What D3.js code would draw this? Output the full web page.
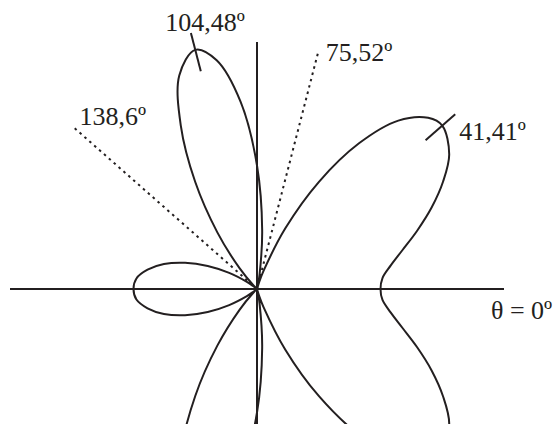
<!DOCTYPE html>
<html>
<head>
<meta charset="utf-8">
<script src="https://cdnjs.cloudflare.com/ajax/libs/d3/7.8.5/d3.min.js"></script>
<style>
	html, body { margin: 0; padding: 0; background: #fff; }
	svg { display: block; }
	text { font-family: 'Liberation Serif', 'Times New Roman', serif; font-size: 26px; fill: #231f20; }
</style>
</head>
<body>
<script>
(function(document, window){
'use strict';

// pattern readings, upper half (theta in degrees, relative radius)
var angles = [0, 5, 10, 15, 20, 25, 30, 35, 41.41, 45, 50, 55, 60, 65, 70, 72.5, 75.52, 78, 80, 85,
				90, 95, 100, 104.48, 110, 115, 120, 125, 130, 135, 138.6, 142.5, 145, 150, 155, 160, 165, 170, 175, 180];
var gains = [0.50, 0.51, 0.55, 0.61, 0.69, 0.78, 0.87, 0.95, 1.00, 0.98, 0.89, 0.72, 0.50, 0.27, 0.08, 0.03, 0, 0.02, 0.06, 0.24,
				0.50, 0.76, 0.94, 1.00, 0.92, 0.73, 0.50, 0.28, 0.11, 0.02, 0, 0.02, 0.05, 0.13, 0.22, 0.31, 0.39, 0.45, 0.49, 0.50];

var nullAngles = [75.52, 138.6];
var nullLabels = ['75,52º', '138,6º'];
var peakAngles = [41.41, 104.48];
var peakLabels = ['41,41º', '104,48º'];
var axisAngles = [0, 90, 180, 270];
var axisLabel = 'θ = 0º';

var width = 553;
var height = 424;
var cx = 257;
var cy = 289;
var ink = '#231f20';

var svg = d3.select('body').append('svg')
			.attr('width', width)
			.attr('height', height);

var rScale = d3.scaleLinear().domain([0, 1]).range([0, 247]);

function rad(deg){
	return deg * Math.PI / 180;
};

function px(deg, g){
	return cx + rScale(g) * Math.cos(rad(deg));
};

function py(deg, g){
	return cy - rScale(g) * Math.sin(rad(deg));
};

var g = svg.append('g').attr('transform', 'translate(' + cx + ',' + cy + ')');

// axes
g.selectAll('line.axis')
	.data(axisAngles)
	.enter()
	.append('line')
	.attr('class', 'axis')
	.attr('x1', 0).attr('y1', 0)
	.attr('x2', function(d){ return rScale(1) * Math.cos(rad(d)); })
	.attr('y2', function(d){ return -rScale(1) * Math.sin(rad(d)); })
	.attr('stroke', ink)
	.attr('stroke-width', 2);

// null directions
g.selectAll('line.null')
	.data(nullAngles)
	.enter()
	.append('line')
	.attr('class', 'null')
	.attr('x1', 0).attr('y1', 0)
	.attr('x2', function(d){ return rScale(0.985) * Math.cos(rad(d)); })
	.attr('y2', function(d){ return -rScale(0.985) * Math.sin(rad(d)); })
	.attr('stroke', ink)
	.attr('stroke-width', 2)
	.attr('stroke-dasharray', '2.5,4');

// full pattern: upper half then the mirror image below
var pts = [];
for(var i=0; i<angles.length; i++){
	pts.push({'a': angles[i], 'g': gains[i]});
}
for(var j=angles.length - 2; j>0; j--){
	pts.push({'a': 360 - angles[j], 'g': gains[j]});
}

var line = d3.lineRadial()
			.angle(function(d){ return rad(90 - d.a); })
			.radius(function(d){ return rScale(d.g); })
			.curve(d3.curveCatmullRomClosed.alpha(0.5));

g.append('path')
	.datum(pts)
	.attr('d', line)
	.attr('fill', 'none')
	.attr('stroke', ink)
	.attr('stroke-width', 2);

// peak ticks
g.selectAll('line.peak')
	.data(peakAngles)
	.enter()
	.append('line')
	.attr('class', 'peak')
	.attr('x1', function(d){ return rScale(0.91) * Math.cos(rad(d)); })
	.attr('y1', function(d){ return -rScale(0.91) * Math.sin(rad(d)); })
	.attr('x2', function(d){ return rScale(1.07) * Math.cos(rad(d)); })
	.attr('y2', function(d){ return -rScale(1.07) * Math.sin(rad(d)); })
	.attr('stroke', ink)
	.attr('stroke-width', 2);

// labels
svg.append('text')
	.attr('x', px(nullAngles[0], 0.985) + 8)
	.attr('y', py(nullAngles[0], 0.985) + 8)
	.text(nullLabels[0]);

svg.append('text')
	.attr('x', px(nullAngles[1], 0.985) + 5)
	.attr('y', py(nullAngles[1], 0.985) - 3)
	.text(nullLabels[1]);

svg.append('text')
	.attr('x', px(peakAngles[0], 1.07) + 4)
	.attr('y', py(peakAngles[0], 1.07) + 26)
	.text(peakLabels[0]);

svg.append('text')
	.attr('x', px(peakAngles[1], 1.07) + 14)
	.attr('y', py(peakAngles[1], 1.07) - 2)
	.attr('text-anchor', 'middle')
	.text(peakLabels[1]);

svg.append('text')
	.attr('x', px(0, 1) - 13)
	.attr('y', cy + 30)
	.text(axisLabel);

})(document, window);
</script>
</body>
</html>
